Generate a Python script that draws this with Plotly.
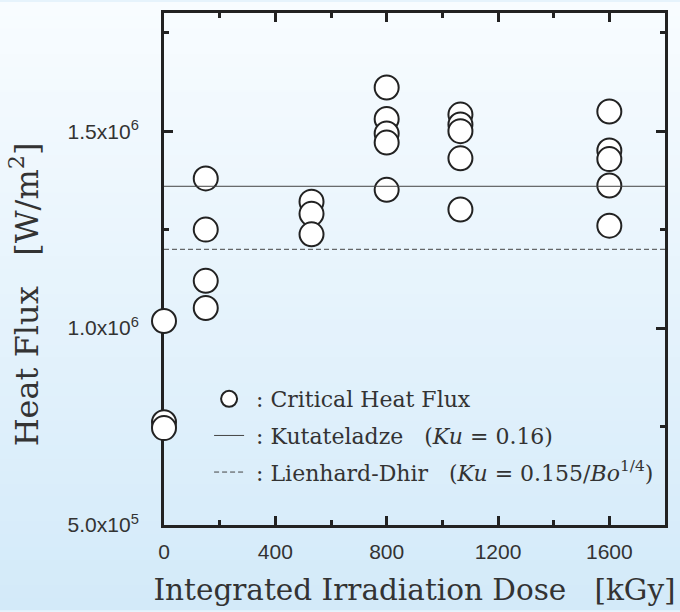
import plotly.graph_objects as go

# ---- data ----
dose_kgy = [0, 0, 0,
            150, 150, 150, 150,
            530, 530, 530,
            800, 800, 800, 800, 800,
            1065, 1065, 1065, 1065, 1065,
            1600, 1600, 1600, 1600, 1600]
chf = [1.018e6, 7.61e5, 7.46e5,
       1.380e6, 1.250e6, 1.120e6, 1.051e6,
       1.321e6, 1.290e6, 1.238e6,
       1.611e6, 1.531e6, 1.494e6, 1.471e6, 1.351e6,
       1.542e6, 1.517e6, 1.500e6, 1.431e6, 1.301e6,
       1.550e6, 1.451e6, 1.429e6, 1.362e6, 1.260e6]
kutateladze = 1.36e6
lienhard_dhir = 1.20e6
x_range = [0, 1800]
y_range = [5.0e5, 1.8e6]
x_ticks = [0, 400, 800, 1200, 1600]
x_minor = [200, 600, 1000, 1400]
y_ticks = [5.0e5, 1.0e6, 1.5e6]
y_ticktext = ["5.0x10<sup>5</sup>", "1.0x10<sup>6</sup>", "1.5x10<sup>6</sup>"]
y_minor = [7.5e5, 1.25e6, 1.75e6]

SP = "\u00a0"
ZW = "\u200b"
SERIF = "DejaVu Serif, Liberation Serif, serif"
fig = go.Figure()
fig.add_trace(go.Scatter(
    x=dose_kgy, y=chf, mode="markers", cliponaxis=False,
    name=SP + ": Critical Heat Flux", legendgroup="a",
    marker=dict(symbol="circle", size=24, color="white",
                line=dict(color="#222", width=2))))
fig.add_trace(go.Scatter(
    x=x_range, y=[kutateladze, kutateladze], mode="lines",
    name=SP + ": Kutateladze" + SP * 3 + "(<i>Ku</i>" + SP + "= 0.16)", legendgroup="b",
    line=dict(color="#444", width=1)))
fig.add_trace(go.Scatter(
    x=x_range, y=[lienhard_dhir, lienhard_dhir], mode="lines",
    name=SP + ": Lienhard-Dhir" + SP * 3 + "(<i>Ku</i>" + SP + "= 0.155/<i>Bo</i><sup>1/4</sup>)",
    legendgroup="c",
    line=dict(color="#444", width=1, dash="5px,3px")))

# background gradient
top = (248, 252, 255)
bot = (211, 234, 249)
N = 48
y0p, y1p = -86 / 516, 526 / 516
x0p, x1p = -164 / 501, 516 / 501
shapes = []
for i in range(N):
    t = i / (N - 1)
    c = tuple(round(bot[k] + (top[k] - bot[k]) * t) for k in range(3))
    ya = y0p + (y1p - y0p) * i / N
    yb = y0p + (y1p - y0p) * (i + 1) / N + 0.002
    shapes.append(dict(type="rect", xref="paper", yref="paper", x0=x0p, x1=x1p,
                       y0=ya, y1=yb, layer="below", line=dict(width=0),
                       fillcolor="rgb(%d,%d,%d)" % c))

axis_common = dict(showline=True, linecolor="#222", linewidth=3, mirror="ticks",
                   ticks="inside", ticklen=9, tickwidth=3, tickcolor="#222",
                   showgrid=False, zeroline=False, layer="below traces",
                   tickfont=dict(family="Liberation Sans, Arial", size=21, color="#333"))

fig.update_layout(
    width=680, height=612,
    margin=dict(l=164, r=15, t=10, b=86),
    paper_bgcolor="rgb(230,243,252)", plot_bgcolor="rgba(0,0,0,0)",
    shapes=shapes, showlegend=True,
    legend=dict(x=0.09, y=0.287, xanchor="left", yanchor="top",
                bgcolor="rgba(0,0,0,0)", itemsizing="trace",
                traceorder="grouped", tracegroupgap=5,
                font=dict(family=SERIF, size=22, color="#333")),
    xaxis=dict(range=x_range, tickvals=x_ticks, ticktext=[str(v) for v in x_ticks],
               minor=dict(tickvals=x_minor, ticks="inside", ticklen=5, tickwidth=3,
                          tickcolor="#222"),
               ticklabelstandoff=6,
               title=dict(text="Integrated Irradiation Dose" + SP * 3 + "[kGy]",
                          standoff=18,
                          font=dict(family=SERIF, size=29.5, color="#333")),
               **axis_common),
    yaxis=dict(range=y_range, tickvals=y_ticks, ticktext=y_ticktext,
               minor=dict(tickvals=y_minor, ticks="inside", ticklen=5, tickwidth=3,
                          tickcolor="#222"),
               ticklabelstandoff=18,
               title=dict(text="Heat Flux" + SP * 3 + "[W/m<sup>2</sup>]" + SP * 5 + ZW,
                          standoff=20,
                          font=dict(family=SERIF, size=32, color="#333")),
               **axis_common),
)
fig.write_html("out.html", config={"displayModeBar": False},
               post_script="document.body.style.margin='0';document.body.style.overflow='hidden';")
